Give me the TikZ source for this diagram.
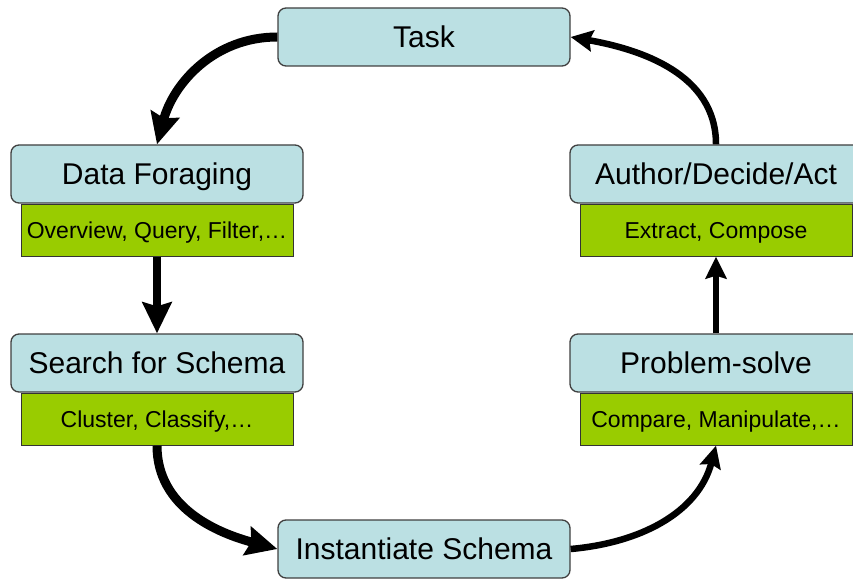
\documentclass[tikz,border=0pt]{standalone}
\usepackage{fontspec}
\setmainfont{Liberation Sans}
\usetikzlibrary{arrows.meta,positioning}
\definecolor{stepblue}{RGB}{187,224,227}
\definecolor{subgreen}{RGB}{153,204,0}
\definecolor{rimgray}{RGB}{64,64,64}

\begin{document}
\begin{tikzpicture}[x=1pt,y=1pt,
                stage/.style={rectangle,rounded corners=8pt,draw=rimgray,line width=1.3pt,fill=stepblue,
                  minimum width=292pt,minimum height=58pt,inner sep=0pt,text height=21.5pt,text depth=0pt,
                  font=\fontsize{30}{36}\selectfont},
                sub/.style={rectangle,draw=black!80,line width=1pt,fill=subgreen,
                  minimum width=272pt,minimum height=52pt,inner sep=0pt,text height=16.5pt,text depth=0pt,
                  font=\fontsize{23}{28}\selectfont},
                bigflow/.style={-{Stealth[length=31pt,width=29pt,inset=4pt]},line width=9pt},
                smallflow/.style={-{Stealth[length=22pt,width=21pt,inset=3pt]},line width=6pt}]
                \useasboundingbox (0,0) rectangle (853,579);
                \node[stage] (task) at (424,542) {Task};
                \node[stage] (forage) at (157,405) {Data Foraging};
                \node[sub] (foragesub) [below=0pt of forage] {Overview, Query, Filter,…};
                \node[stage] (schema) at (157,216) {Search for Schema};
                \node[sub] (schemasub) [below=0pt of schema] {Cluster, Classify,…};
                \node[stage] (inst) at (424,30) {Instantiate Schema};
                \node[stage] (solve) at (716,216) {Problem-solve};
                \node[sub] (solvesub) [below=0pt of solve] {Compare, Manipulate,…};
                \node[stage] (act) at (716,405) {Author/Decide/Act};
                \node[sub] (actsub) [below=0pt of act] {Extract, Compose};

                % left side, going down
                \draw[bigflow] (task.west) to[out=180,in=75] (forage.north);
                \draw[bigflow,line width=7.5pt] (foragesub.south) -- (schema.north);
                \draw[bigflow] (schemasub.south) to[out=-90,in=165] (inst.west);
                % right side, going up
                \draw[smallflow,line width=6.5pt] (inst.east) to[out=5,in=-105] (solvesub.south);
                \draw[smallflow] (solve.north) -- (actsub.south);
                \draw[smallflow,line width=6.5pt] (act.north) to[out=90,in=-10] (task.east);
\end{tikzpicture}
\end{document}
